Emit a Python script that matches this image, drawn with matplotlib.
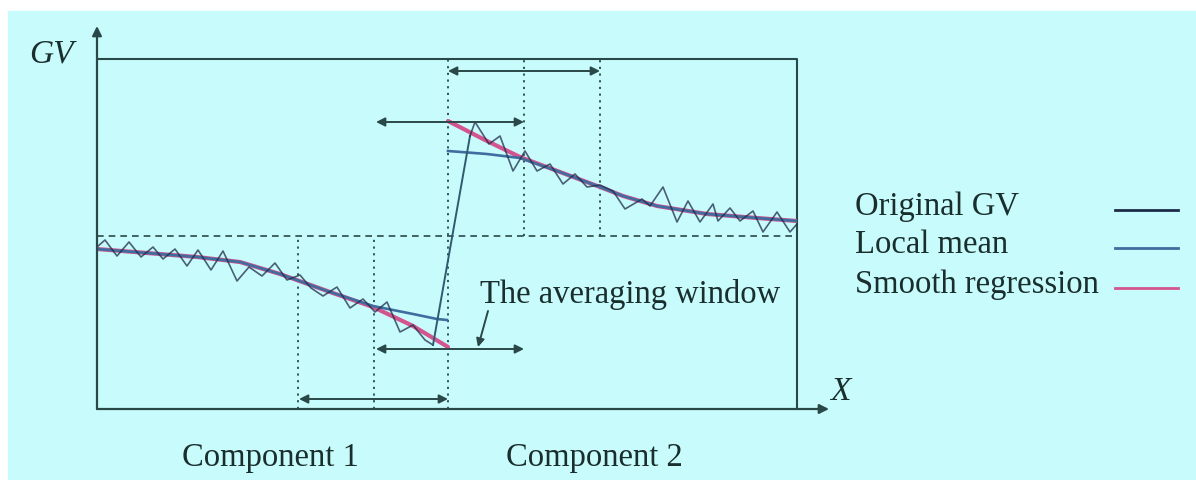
import matplotlib
matplotlib.use("Agg")
import matplotlib.pyplot as plt
from matplotlib.patches import Rectangle

# diagram units: X 0..700, GV 0..350 (box of the plot)
orig1_x = [0, 8, 20, 32, 44, 56, 66, 78, 90, 101, 114, 126, 140, 152, 165, 178,
           190, 203, 214, 226, 240, 253, 266, 278, 290, 303, 316, 328, 336]
orig1_y = [162, 169, 153, 167, 152, 162, 150, 160, 143, 159, 139, 158, 128, 142, 133, 146,
           129, 134, 121, 113, 122, 101, 110, 97, 107, 77, 84, 69, 64]
jump_x = [336, 373]
jump_y = [64, 273]
orig2_x = [373, 378, 392, 403, 416, 428, 440, 453, 466, 478, 490, 503, 516, 528, 545,
           553, 566, 580, 591, 603, 616, 621, 633, 643, 656, 666, 680, 693, 700]
orig2_y = [273, 287, 265, 273, 238, 258, 238, 245, 225, 235, 222, 224, 218, 200, 210,
           203, 222, 187, 208, 187, 205, 188, 201, 188, 198, 177, 197, 177, 185]

mean1_x = [0, 50, 100, 143, 183, 233, 276, 316, 340, 350]
mean1_y = [160, 156, 152, 147, 135, 117, 103, 95, 90, 89]
mean2_x = [351, 390, 423, 463, 503, 526, 560, 610, 660, 700]
mean2_y = [258, 255, 251, 237, 222, 213, 203, 195, 191, 188]

smooth1_x = [0, 50, 100, 143, 183, 233, 276, 316, 351]
smooth1_y = [160, 156, 152, 147, 135, 117, 102, 83, 62]
smooth2_x = [351, 390, 423, 463, 503, 526, 560, 610, 660, 700]
smooth2_y = [288, 268, 252, 237, 222, 213, 203, 195, 191, 188]

mean_level = 173
# (x, y from, y to) of the dotted window borders
borders = [(201, 0, 173), (277, 0, 173), (351, 0, 350), (427, 173, 350), (503, 173, 350)]
# (x from, x to, y) of the window arrows
spans = [(351, 503, 338), (279, 427, 287), (279, 427, 60), (202, 351, 10)]

labels = ["Original GV", "Local mean", "Smooth regression"]
c_orig = "#1d2b48"
c_mean = "#3f6d9f"
c_smooth = "#d4548e"
c_ink = "#1a2e2e"
c_line = "#2a4848"
c_bg = "#c8fcfc"

plt.rcParams['font.family'] = ['Liberation Serif', 'DejaVu Serif']

fig = plt.figure(figsize=(11.96, 4.81), dpi=100)
fig.patches.append(Rectangle((8 / 1196, 0), 1, (481 - 12) / 481,
                             transform=fig.transFigure, color=c_bg, zorder=-10))
ax = fig.add_axes([97 / 1196, 71 / 481, 700 / 1196, 350 / 481])
ax.set_xlim(0, 700)
ax.set_ylim(0, 350)
ax.set_facecolor("none")
for s in ax.spines.values():
    s.set_visible(False)
ax.set_xticks([])
ax.set_yticks([])

# axes with arrows and the box
ax.annotate("", xy=(0, 383), xytext=(0, 0), annotation_clip=False,
            arrowprops=dict(arrowstyle="-|>", color=c_line, lw=1.6, mutation_scale=14,
                            shrinkA=0, shrinkB=0))
ax.annotate("", xy=(732, 0), xytext=(0, 0), annotation_clip=False,
            arrowprops=dict(arrowstyle="-|>", color=c_line, lw=1.6, mutation_scale=14,
                            shrinkA=0, shrinkB=0))
ax.plot([0, 700, 700], [350, 350, 0], color=c_line, lw=1.5, clip_on=False)

# mean level and window borders
ax.axhline(mean_level, color=c_line, lw=1.2, ls=(0, (4, 3)))
for x, y0, y1 in borders:
    ax.plot([x, x], [y0, y1], color=c_line, lw=1.3, ls=(0, (1.2, 2.5)))
for x0, x1, y in spans:
    ax.annotate("", xy=(x1, y), xytext=(x0, y),
                arrowprops=dict(arrowstyle="<|-|>", color=c_line, lw=1.4, mutation_scale=13,
                                shrinkA=0, shrinkB=0))

# curves
ax.plot(smooth1_x, smooth1_y, color=c_smooth, lw=3, solid_capstyle="round")
ax.plot(smooth2_x, smooth2_y, color=c_smooth, lw=3, solid_capstyle="round")
ax.plot(mean1_x, mean1_y, color=c_mean, lw=1.9)
ax.plot(mean2_x, mean2_y, color=c_mean, lw=1.9)
ax.plot(orig1_x, orig1_y, color=c_orig, lw=1.2, alpha=0.75)
ax.plot(jump_x, jump_y, color="#2f5a70", lw=1.4)
ax.plot(orig2_x, orig2_y, color=c_orig, lw=1.2, alpha=0.75)

# texts
ax.text(-46, 356, "GV", fontsize=24, style="italic", color=c_ink, ha="center", va="center",
        clip_on=False)
ax.text(743, 18, "X", fontsize=24, style="italic", color=c_ink, ha="center", va="center",
        clip_on=False)
ax.text(383, 107, "The averaging window", fontsize=23.5, color=c_ink, ha="left",
        va="baseline")
ax.annotate("", xy=(381, 62), xytext=(391, 98),
            arrowprops=dict(arrowstyle="-|>", color=c_line, lw=1.4, mutation_scale=12,
                            shrinkA=0, shrinkB=0))
ax.text(173, -56, "Component 1", fontsize=23.5, color=c_ink, ha="center", va="baseline",
        clip_on=False)
ax.text(497, -56, "Component 2", fontsize=23.5, color=c_ink, ha="center", va="baseline",
        clip_on=False)

# legend, text first then line
leg_y = [195, 157, 117]
for lab, y, c in zip(labels, leg_y, [c_orig, c_mean, c_smooth]):
    ax.text(758, y, lab, fontsize=23.5, color=c_ink, ha="left", va="baseline", clip_on=False)
    ax.plot([1018, 1081], [y + 4, y + 4], color=c, lw=2, clip_on=False)

fig.savefig("out.png", dpi=100)
